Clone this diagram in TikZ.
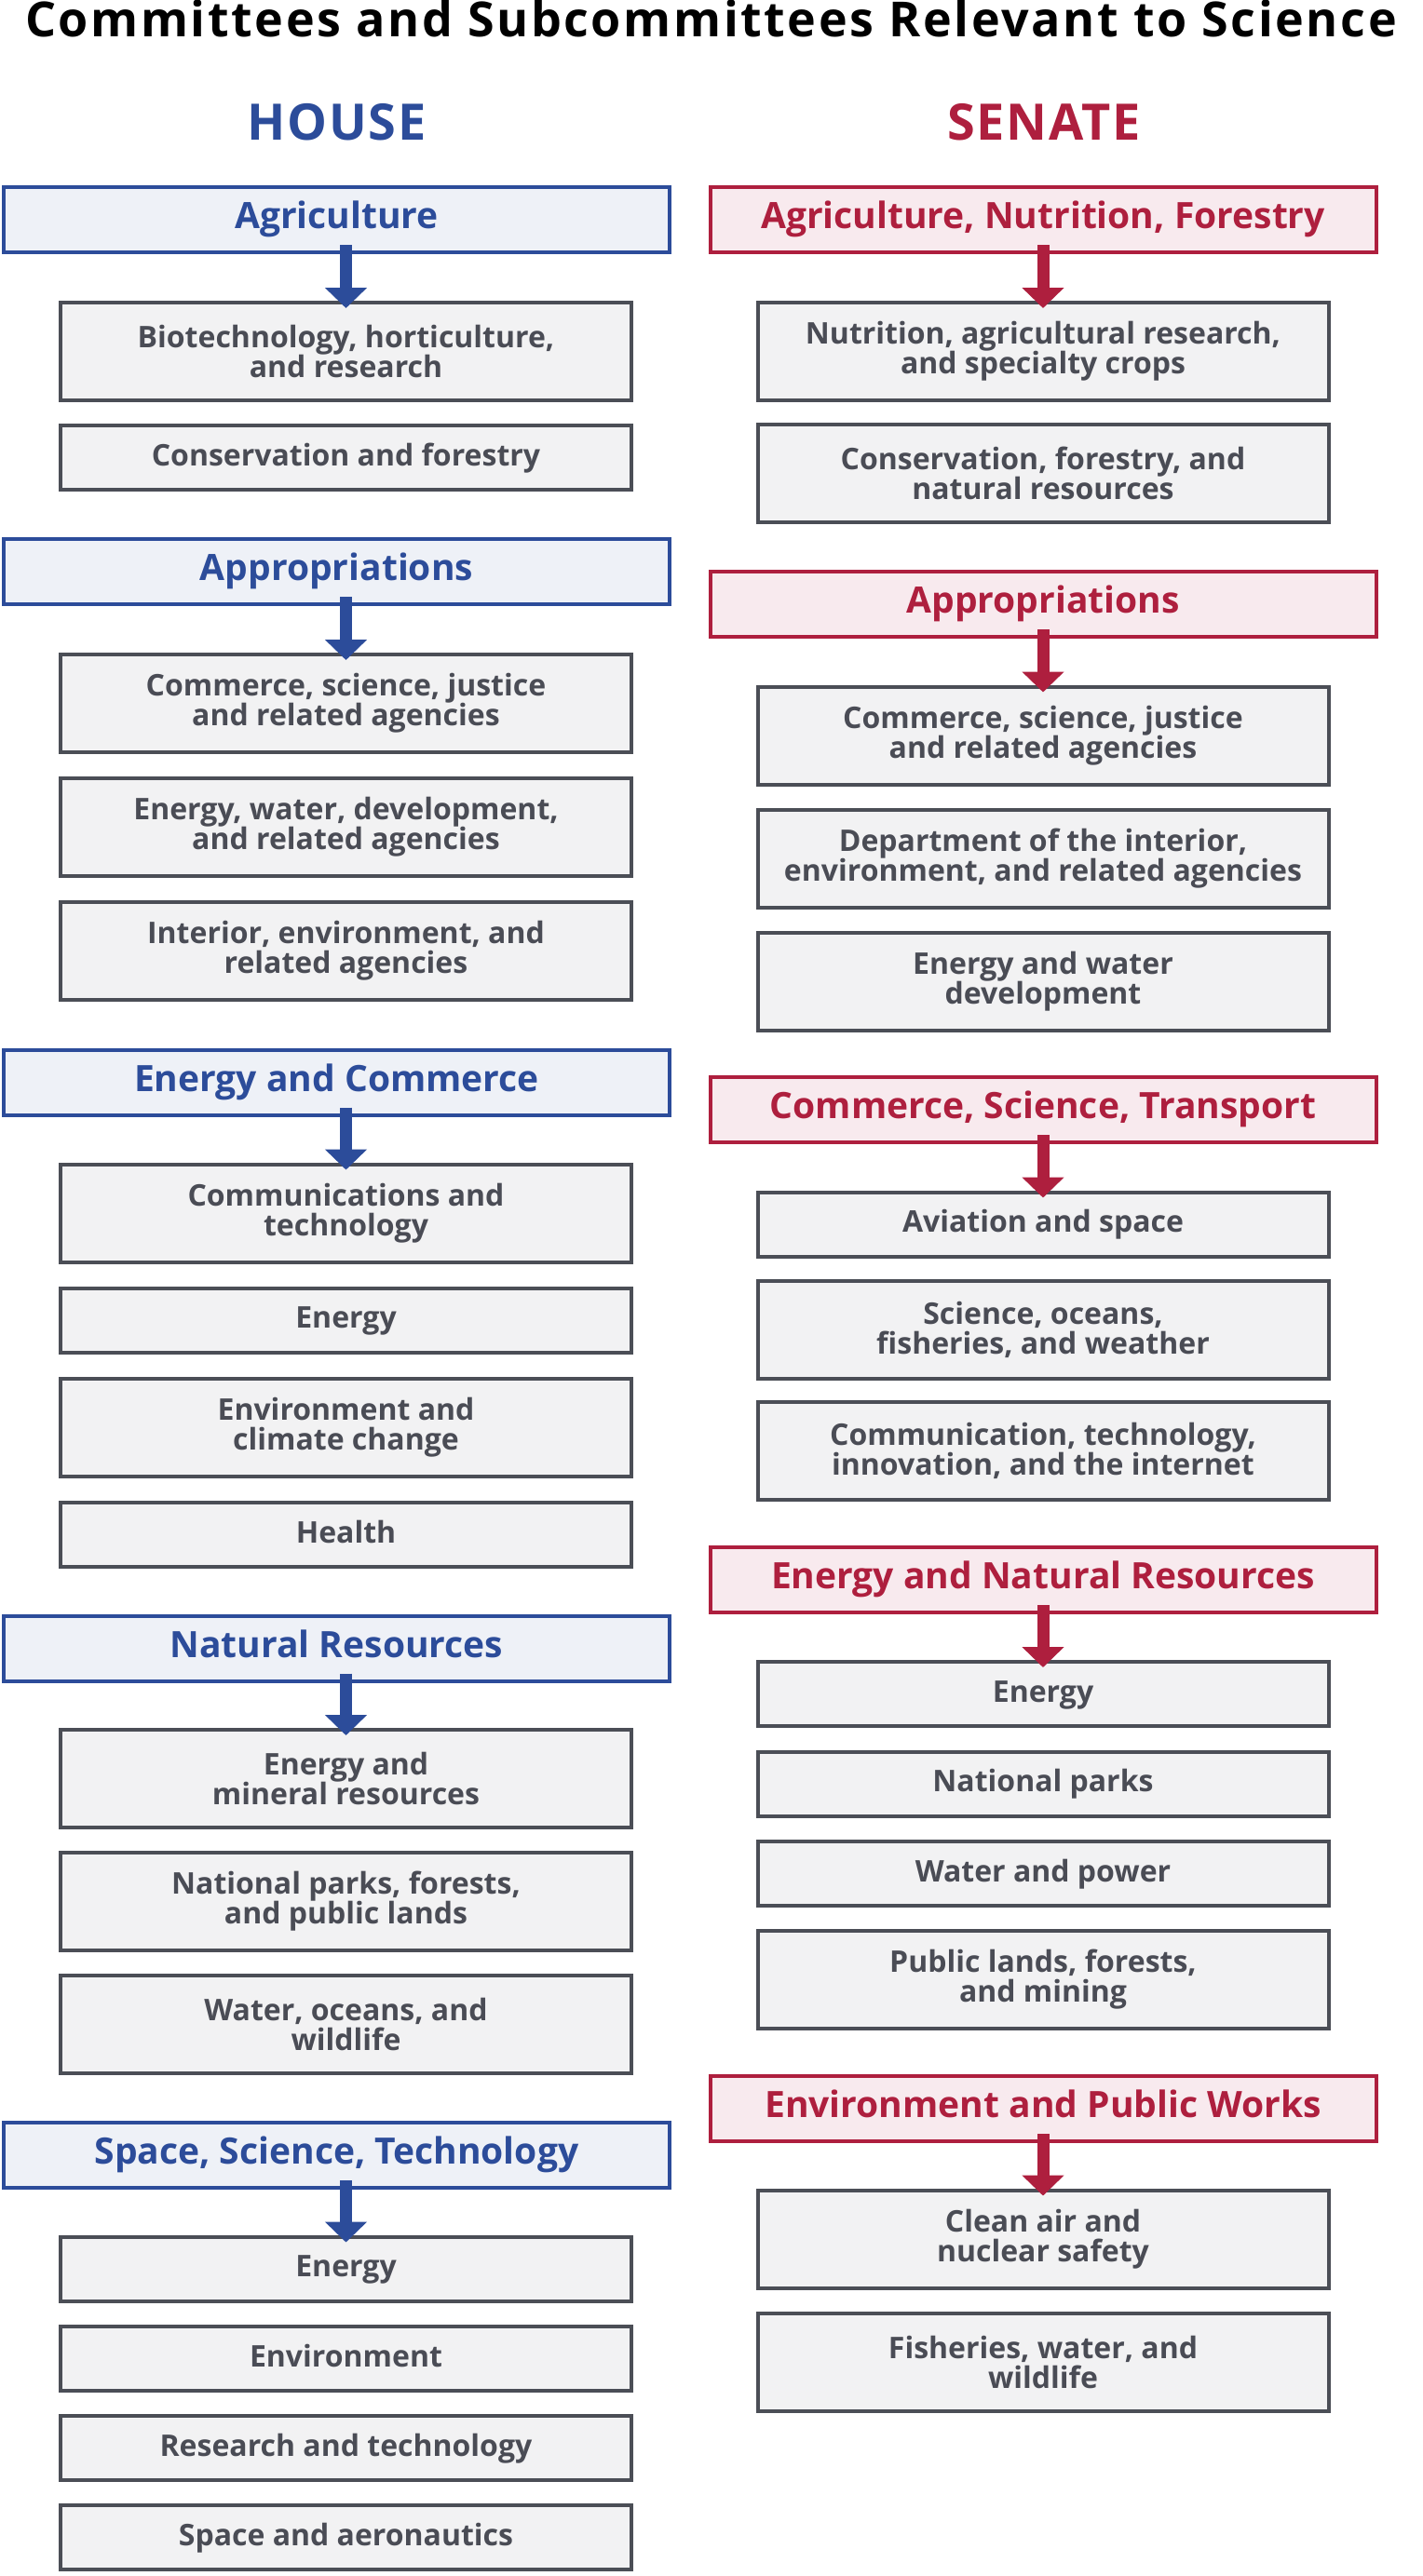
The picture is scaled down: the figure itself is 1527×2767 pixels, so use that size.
\documentclass[tikz,border=0pt]{standalone}
\usepackage{fontspec}
\setmainfont{Open Sans}
\newfontfamily\titlefont{Open Sans}[LetterSpace=5]
\newfontfamily\sidefont{Open Sans}[LetterSpace=3]
\usetikzlibrary{
    arrows.meta            % Modern arrow tips
}
\definecolor{houseblue}{HTML}{2C4C9A}
\definecolor{houselight}{HTML}{EEF1F7}
\definecolor{senatered}{HTML}{AE1F3E}
\definecolor{senatelight}{HTML}{F8EAEE}
\definecolor{subfill}{HTML}{F2F2F3}
\definecolor{subline}{HTML}{4B4E56}
\definecolor{subtext}{HTML}{4A4C55}
\tikzset{headbox/.style={
    draw, line width=4pt, minimum width=715pt, minimum height=70pt, inner sep=0pt,
    font=\fontsize{39}{42}\selectfont\bfseries, text height=27pt, text depth=8pt
}}
\tikzset{househead/.style={headbox, draw=houseblue, fill=houselight, text=houseblue}}
\tikzset{senatehead/.style={headbox, draw=senatered, fill=senatelight, text=senatered}}
\tikzset{subbox/.style={
    draw=subline, fill=subfill, text=subtext, line width=4pt, minimum width=613pt,
    inner sep=0pt, align=center, font=\fontsize{32}{32}\selectfont\bfseries
}}
\tikzset{subone/.style={subbox, minimum height=69pt, text height=23pt, text depth=6pt}}
\tikzset{subtwo/.style={subbox, minimum height=105pt}}
\tikzset{housearrow/.style={draw=houseblue, line width=13pt, -{Triangle[width=44pt,length=22pt]}}}
\tikzset{senatearrow/.style={draw=senatered, line width=13pt, -{Triangle[width=44pt,length=22pt]}}}

\begin{document}
\begin{tikzpicture}[x=1pt, y=-1pt]
    \useasboundingbox (0,0) rectangle (1527,2767);
    \fill[white] (0,0) rectangle (1527,2767);

    \node[anchor=base, font=\titlefont\fontsize{52}{54}\selectfont\bfseries] (title) at (763.5,40) {Committees and Subcommittees Relevant to Science};
    \node[anchor=base, text=houseblue, font=\sidefont\fontsize{54}{56}\selectfont\bfseries] (house) at (361.5,151) {HOUSE};
    \node[anchor=base, text=senatered, font=\sidefont\fontsize{54}{56}\selectfont\bfseries] (senate) at (1121,151) {SENATE};

    \node[househead] (hAg) at (361.5,236) {Agriculture};
    \node[subtwo] (hAgBio) at (371.5,377.5) {Biotechnology, horticulture,\\and research};
    \node[subone] (hAgCon) at (371.5,491.5) {Conservation and forestry};
    \node[househead] (hAp) at (361.5,614) {Appropriations};
    \node[subtwo] (hApCsj) at (371.5,755.5) {Commerce, science, justice\\and related agencies};
    \node[subtwo] (hApEwd) at (371.5,888.5) {Energy, water, development,\\and related agencies};
    \node[subtwo] (hApInt) at (371.5,1021.5) {Interior, environment, and\\related agencies};
    \node[househead] (hEc) at (361.5,1162.5) {Energy and Commerce};
    \node[subtwo] (hEcCom) at (371.5,1303) {Communications and\\technology};
    \node[subone] (hEcEn) at (371.5,1418) {Energy};
    \node[subtwo] (hEcEnv) at (371.5,1533) {Environment and\\climate change};
    \node[subone] (hEcHe) at (371.5,1648.5) {Health};
    \node[househead] (hNr) at (361.5,1770.5) {Natural Resources};
    \node[subtwo] (hNrEm) at (371.5,1910.5) {Energy and\\mineral resources};
    \node[subtwo] (hNrPk) at (371.5,2042) {National parks, forests,\\and public lands};
    \node[subtwo] (hNrWo) at (371.5,2174) {Water, oceans, and\\wildlife};
    \node[househead] (hSst) at (361.5,2315) {Space, Science, Technology};
    \node[subone] (hSstEn) at (371.5,2437) {Energy};
    \node[subone] (hSstEnv) at (371.5,2533.5) {Environment};
    \node[subone] (hSstRt) at (371.5,2629.5) {Research and technology};
    \node[subone] (hSstSa) at (371.5,2725.5) {Space and aeronautics};

    \node[senatehead] (sAg) at (1120,236) {Agriculture, Nutrition, Forestry};
    \node[subtwo] (sAgNut) at (1120,377.5) {Nutrition, agricultural research,\\and specialty crops};
    \node[subtwo] (sAgCon) at (1120,508.5) {Conservation, forestry, and\\natural resources};
    \node[senatehead] (sAp) at (1120,649) {Appropriations};
    \node[subtwo] (sApCsj) at (1120,790) {Commerce, science, justice\\and related agencies};
    \node[subtwo] (sApInt) at (1120,922) {Department of the interior,\\environment, and related agencies};
    \node[subtwo] (sApEw) at (1120,1054) {Energy and water\\development};
    \node[senatehead] (sCst) at (1120,1192) {Commerce, Science, Transport};
    \node[subone] (sCstAv) at (1120,1315) {Aviation and space};
    \node[subtwo] (sCstSo) at (1120,1428) {Science, oceans,\\fisheries, and weather};
    \node[subtwo] (sCstCt) at (1120,1558) {Communication, technology,\\innovation, and the internet};
    \node[senatehead] (sEnr) at (1120,1697) {Energy and Natural Resources};
    \node[subone] (sEnrEn) at (1120,1819.5) {Energy};
    \node[subone] (sEnrNp) at (1120,1916) {National parks};
    \node[subone] (sEnrWp) at (1120,2012.5) {Water and power};
    \node[subtwo] (sEnrPl) at (1120,2126) {Public lands, forests,\\and mining};
    \node[senatehead] (sEpw) at (1120,2265) {Environment and Public Works};
    \node[subtwo] (sEpwCa) at (1120,2405) {Clean air and\\nuclear safety};
    \node[subtwo] (sEpwFw) at (1120,2537) {Fisheries, water, and\\wildlife};

    \draw[housearrow] ([yshift=10pt]hAg.south -| hAgBio.north) -- ([yshift=-8pt]hAgBio.north);
    \draw[housearrow] ([yshift=10pt]hAp.south -| hApCsj.north) -- ([yshift=-8pt]hApCsj.north);
    \draw[housearrow] ([yshift=10pt]hEc.south -| hEcCom.north) -- ([yshift=-8pt]hEcCom.north);
    \draw[housearrow] ([yshift=10pt]hNr.south -| hNrEm.north) -- ([yshift=-8pt]hNrEm.north);
    \draw[housearrow] ([yshift=10pt]hSst.south -| hSstEn.north) -- ([yshift=-8pt]hSstEn.north);
    \draw[senatearrow] ([yshift=10pt]sAg.south) -- ([yshift=-8pt]sAgNut.north);
    \draw[senatearrow] ([yshift=10pt]sAp.south) -- ([yshift=-8pt]sApCsj.north);
    \draw[senatearrow] ([yshift=10pt]sCst.south) -- ([yshift=-8pt]sCstAv.north);
    \draw[senatearrow] ([yshift=10pt]sEnr.south) -- ([yshift=-8pt]sEnrEn.north);
    \draw[senatearrow] ([yshift=10pt]sEpw.south) -- ([yshift=-8pt]sEpwCa.north);
\end{tikzpicture}
\end{document}
